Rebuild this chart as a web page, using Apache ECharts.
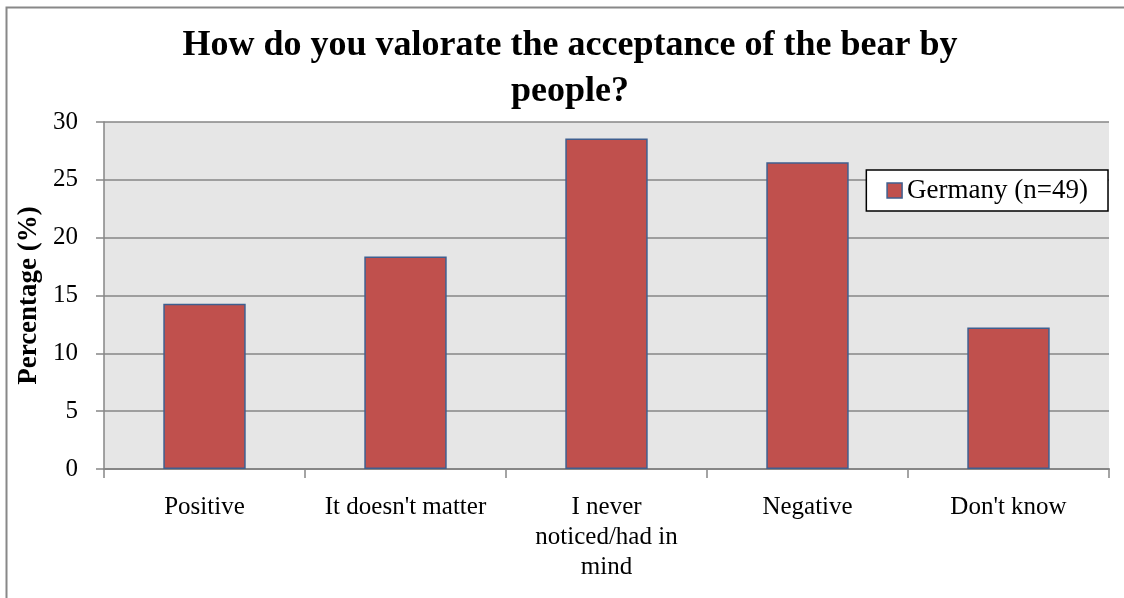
<!DOCTYPE html>
<html>
<head>
<meta charset="utf-8">
<script src="https://cdn.jsdelivr.net/npm/echarts@6/dist/echarts.min.js"></script>
<style>
html,body{margin:0;padding:0;background:#fff;}
#chart{width:1124px;height:598px;}
</style>
</head>
<body>
<div id="chart"></div>
<script>
const chartTitle = "How do you valorate the acceptance of the bear by\npeople?";
const categories = ["Positive", "It doesn't matter", "I never\nnoticed/had in\nmind", "Negative", "Don't know"];
const seriesName = "Germany (n=49)";
const germanyValues = [14.29, 18.37, 28.57, 26.53, 12.24];
const yAxisName = "Percentage (%)";

const FONT = "'Liberation Serif', 'DejaVu Serif', serif";
const chart = echarts.init(document.getElementById('chart'), null, {renderer: 'canvas'});
chart.setOption({
  backgroundColor: '#ffffff',
  animation: false,
  graphic: [{
    type: 'rect',
    shape: {x: 6.5, y: 7.5, width: 1130, height: 600},
    style: {fill: 'none', stroke: '#888888', lineWidth: 2},
    silent: true, z: -1
  }],
  title: {
    text: chartTitle,
    left: 565, top: 18, textAlign: 'center',
    textStyle: {fontFamily: FONT, fontWeight: 'bold', fontSize: 36, lineHeight: 46, color: '#000'}
  },
  legend: {
    data: [{name: seriesName, icon: 'rect'}],
    right: 16, top: 170,
    orient: 'vertical',
    backgroundColor: '#fff',
    borderColor: '#000', borderWidth: 1.5,
    padding: [7, 20, 7, 20],
    itemWidth: 15, itemHeight: 15, itemGap: 5,
    itemStyle: {borderColor: '#3f5f8f', borderWidth: 1.5},
    textStyle: {fontFamily: FONT, fontSize: 27, color: '#000'}
  },
  grid: {left: 104, right: 15, top: 122, bottom: 129, backgroundColor: '#e6e6e6', show: true, borderWidth: 0},
  xAxis: {
    type: 'category',
    data: categories,
    axisLine: {lineStyle: {color: '#868686', width: 2}},
    axisTick: {show: true, length: 9, lineStyle: {color: '#868686', width: 1.5}},
    axisLabel: {fontFamily: FONT, fontSize: 25, color: '#000', lineHeight: 30, margin: 23, interval: 0}
  },
  yAxis: {
    type: 'value', min: 0, max: 30, interval: 5,
    name: yAxisName, nameLocation: 'middle', nameGap: 61,
    nameTextStyle: {fontFamily: FONT, fontWeight: 'bold', fontSize: 27, color: '#000'},
    axisLine: {show: true, lineStyle: {color: '#868686', width: 1.5}},
    axisTick: {show: true, length: 8, lineStyle: {color: '#868686', width: 1.5}},
    axisLabel: {fontFamily: FONT, fontSize: 25, color: '#000', margin: 26},
    splitLine: {lineStyle: {color: '#868686', width: 1.5}}
  },
  series: [{
    name: seriesName,
    type: 'bar',
    data: germanyValues,
    barCategoryGap: '59%',
    itemStyle: {color: '#c0504d', borderColor: '#3f5f8f', borderWidth: 1.5}
  }]
});
</script>
</body>
</html>
